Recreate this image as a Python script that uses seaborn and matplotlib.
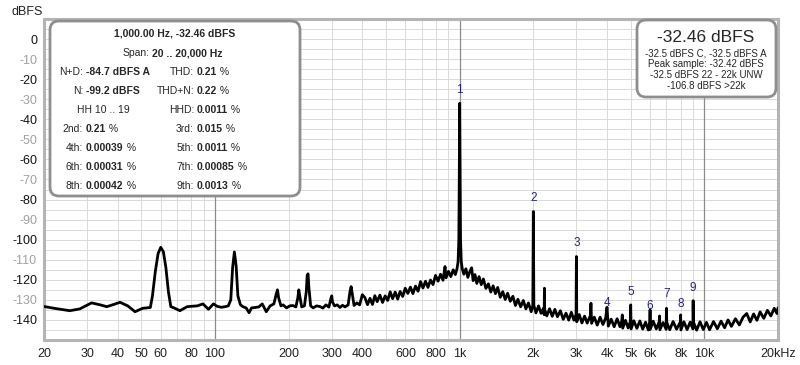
import pandas as pd
import seaborn as sns
import matplotlib.pyplot as plt
from matplotlib.patches import FancyBboxPatch

sns.set_theme(style="white")
plt.rcParams['font.family'] = ['Liberation Sans', 'DejaVu Sans']

# spectrum, split in three pieces
# 20 .. 400 Hz (mains hum region)
low_freq = [20, 22, 25.5, 28, 31.3, 34, 36.1, 38.5, 40.9, 44,
            47.1, 50.6, 54.4, 55.5, 57, 58.5, 60, 61.5, 63, 64.5,
            66, 68, 71.9, 76.9, 80, 84.5, 89.3, 94, 98.5, 102,
            106, 110, 113.3, 116, 118, 120, 122, 124, 127, 130,
            134, 137.8, 141, 146, 151, 156, 162, 168, 174, 178,
            180, 182, 186, 190, 196, 202, 208, 214, 218, 220,
            222, 226, 232, 236, 238, 240, 242, 246, 252, 260,
            268, 276, 284, 292, 298, 300, 302, 308, 316, 324,
            332, 340, 350, 356, 360, 364, 370, 380, 390, 400]
low_db = [-133.3, -134.2, -135.4, -134.5, -131.5, -132.5, -133.4, -132.3, -131.2, -133.0,
          -135.9, -134.2, -133.8, -128.0, -116.0, -107.0, -103.8, -106.0, -114.0, -126.0,
          -133.4, -134.0, -135.4, -133.4, -133.2, -133.0, -132.0, -134.7, -132.0, -133.2,
          -133.7, -133.4, -133.0, -130.0, -114.0, -106.1, -113.0, -128.0, -132.4, -133.4,
          -134.0, -136.4, -134.0, -133.8, -133.5, -132.0, -135.9, -133.0, -132.0, -127.0,
          -125.0, -129.0, -133.0, -132.5, -134.0, -133.0, -132.8, -133.5, -129.0, -125.0,
          -128.0, -133.5, -133.0, -126.0, -118.0, -117.0, -124.0, -133.0, -134.0, -133.0,
          -133.3, -134.1, -132.5, -133.6, -129.0, -128.0, -131.0, -133.0, -132.5, -133.8,
          -132.7, -133.5, -132.5, -126.0, -123.4, -127.0, -132.8, -131.5, -132.5, -127.4]

# 400 Hz .. 2 kHz (fundamental and its skirt)
mid_freq = [410, 420, 430, 440, 450, 460, 472, 484, 496, 508,
            520, 532, 545, 558, 571, 585, 599, 614, 629, 644,
            660, 676, 692, 708, 725, 742, 760, 778, 797, 816,
            835, 855, 871, 880, 900, 920, 941, 960, 975, 985,
            992, 996, 1000, 1004, 1008, 1015, 1025, 1040, 1060, 1080,
            1100, 1119, 1135, 1155, 1175, 1200, 1225, 1250, 1280, 1310,
            1340, 1370, 1400, 1430, 1465, 1500, 1535, 1570, 1610, 1650,
            1690, 1730, 1775, 1820, 1865, 1910, 1960, 1990]
mid_db = [-128.9, -132.4, -129.2, -132.3, -127.9, -130.9, -127.6, -131.3, -128.0, -130.3,
          -126.0, -129.4, -126.1, -129.6, -125.8, -128.3, -124.2, -126.8, -123.6, -126.9,
          -123.1, -125.7, -120.9, -124.1, -120.7, -123.8, -120.1, -122.4, -117.8, -120.7,
          -117.2, -120.2, -113.4, -119.0, -115.8, -118.4, -115.0, -117.4, -114.5, -111.0,
          -100.0, -70.0, -32.0, -70.0, -100.0, -111.0, -114.6, -117.2, -114.5, -118.8,
          -115.9, -114.0, -120.4, -117.4, -121.8, -118.4, -122.4, -119.6, -124.3, -122.0,
          -126.1, -123.0, -126.9, -123.8, -128.7, -125.9, -129.8, -126.7, -130.7, -128.2,
          -132.8, -129.7, -133.5, -130.3, -134.5, -131.5, -135.9, -132.8]

# 2 kHz .. 20 kHz (harmonics and noise floor)
high_freq = [2000, 2010, 2050, 2100, 2150, 2200, 2215, 2220, 2225, 2270,
             2330, 2390, 2450, 2510, 2580, 2650, 2720, 2790, 2860, 2930,
             2990, 3000, 3010, 3080, 3160, 3240, 3320, 3420, 3440, 3460,
             3550, 3650, 3750, 3850, 3950, 4000, 4050, 4160, 4280, 4400,
             4520, 4600, 4620, 4640, 4760, 4880, 4980, 5000, 5020, 5150,
             5300, 5450, 5600, 5750, 5900, 5990, 6000, 6010, 6180, 6360,
             6540, 6560, 6580, 6780, 6980, 7000, 7020, 7220, 7450, 7700,
             7980, 8000, 8020, 8250, 8500, 8750, 8980, 9000, 9020, 9300,
             9600, 9900, 10200, 10500, 10900, 11300, 11700, 12100, 12500, 12900,
             13400, 13900, 14400, 14900, 15400, 15900, 16400, 16900, 17500, 18100,
             18700, 19300, 19800, 20000]
high_db = [-86.0, -132.8, -136.5, -133.0, -136.7, -134.2, -137.4, -124.2, -134.8, -138.0,
           -134.4, -138.2, -134.7, -138.4, -135.4, -139.7, -136.6, -140.1, -136.2, -140.1,
           -137.2, -108.4, -140.9, -137.3, -141.5, -138.1, -141.6, -137.8, -131.7, -141.7,
           -138.6, -142.6, -138.6, -142.3, -139.1, -133.7, -143.1, -139.6, -143.4, -139.4,
           -143.4, -140.4, -137.5, -144.1, -140.2, -144.0, -140.9, -132.5, -144.5, -140.4,
           -144.2, -140.5, -144.6, -141.1, -145.0, -140.9, -135.0, -144.7, -140.6, -144.5,
           -140.9, -138.0, -144.9, -141.3, -144.7, -134.2, -141.2, -144.9, -140.8, -144.6,
           -141.0, -137.5, -145.0, -140.9, -144.8, -141.1, -144.5, -130.4, -141.0, -145.1,
           -140.9, -144.8, -141.2, -144.9, -140.8, -144.4, -140.6, -143.9, -140.0, -143.2,
           -139.4, -142.5, -138.6, -136.8, -141.0, -137.0, -140.2, -136.0, -139.2, -135.2,
           -138.0, -134.2, -136.8, -134.0]

# harmonic number labels (frequency, height of the label)
harm_freq = [1000, 2000, 3000, 4000, 5000, 6000, 7000, 8000, 9000]
harm_label_db = [-25.4, -79.2, -101.6, -131.5, -126.1, -133.0, -127.1, -132.1, -124.1]
harm_labels = ['1', '2', '3', '4', '5', '6', '7', '8', '9']

x_ticks = [20, 30, 40, 50, 60, 80, 100, 200, 300, 400, 600, 800,
           1000, 2000, 3000, 4000, 5000, 6000, 8000, 10000, 20000]
x_labels = ['20', '30', '40', '50', '60', '80', '100', '200', '300', '400', '600', '800',
            '1k', '2k', '3k', '4k', '5k', '6k', '8k', '10k', '20kHz']
y_ticks = [0, -10, -20, -30, -40, -50, -60, -70, -80, -90, -100, -110, -120, -130, -140]

# info panel text
title_line = '1,000.00 Hz, -32.46 dBFS'
span_value = '20 .. 20,000 Hz'
left_names = ['N+D:', 'N:', None, '2nd:', '4th:', '6th:', '8th:']
left_values = ['-84.7 dBFS A', '-99.2 dBFS', None, '0.21', '0.00039', '0.00031', '0.00042']
right_names = ['THD:', 'THD+N:', 'HHD:', '3rd:', '5th:', '7th:', '9th:']
right_values = ['0.21', '0.22', '0.0011', '0.015', '0.0011', '0.00085', '0.0013']
level_big = '-32.46 dBFS'
level_lines = ['-32.5 dBFS C, -32.5 dBFS A', 'Peak sample: -32.42 dBFS',
               '-32.5 dBFS 22 - 22k UNW', '-106.8 dBFS >22k']

df = pd.DataFrame({'freq': low_freq + mid_freq + high_freq,
                   'db': low_db + mid_db + high_db})

W, H = 800, 365
fig = plt.figure(figsize=(W / 100, H / 100), dpi=100)
fig.patch.set_facecolor('white')
ax = fig.add_axes([44 / W, 1 - 340 / H, (778 - 44) / W, (340 - 19) / H])
ax.set_xscale('log')

sns.lineplot(data=df, x='freq', y='db', ax=ax, color='black', lw=2.0,
             estimator=None, sort=False, zorder=5)

ax.set_xlim(20, 20000)
ax.set_ylim(-150, 10)
ax.set_xlabel('')
ax.set_ylabel('')

# grid
minor_x = [f * m for m in (10, 100, 1000) for f in range(2, 10)] + [10000, 20000]
ax.set_xticks(minor_x, minor=True)
ax.set_xticks(x_ticks, x_labels)
ax.set_yticks(list(range(-150, 11, 5)), minor=True)
ax.set_yticks(y_ticks, [str(v) for v in y_ticks])
ax.grid(which='both', color='#dadada', lw=0.7)
for f in (100, 1000, 10000):
    ax.axvline(f, color='#8c8c8c', lw=0.9, zorder=2)
ax.tick_params(which='both', length=0)
ax.tick_params(axis='x', labelsize=9, pad=6, colors='#222222')
ax.tick_params(axis='y', labelsize=9, pad=5)
for s in ax.spines.values():
    s.set_color('#b4b4b4')
    s.set_linewidth(2.2)

for f, d, t in zip(harm_freq, harm_label_db, harm_labels):
    ax.text(f, d, t, ha='center', va='center', fontsize=8.5, color='#24246e', zorder=6)

fig.text(27 / W, 1 - 12 / H, 'dBFS', ha='center', va='center', fontsize=9, color='#222222')

# overlay in pixel coordinates for the two boxes
ov = fig.add_axes([0, 0, 1, 1], zorder=10)
ov.set_xlim(0, W)
ov.set_ylim(H, 0)
ov.axis('off')
ov.patch.set_alpha(0)

for (x0, y0, x1, y1) in [(50, 21, 300, 196), (637, 20, 776, 97)]:
    ov.add_patch(FancyBboxPatch((x0, y0), x1 - x0, y1 - y0,
                                boxstyle='round,pad=0,rounding_size=9',
                                fc='white', ec='#8e8e8e', lw=2.0))

fs = 7.5
ov.text(175, 33, title_line, ha='center', va='center', fontsize=fs, fontweight='bold')
ov.text(150, 53, 'Span:', ha='right', va='center', fontsize=fs)
ov.text(152, 53, span_value, ha='left', va='center', fontsize=fs, fontweight='bold')

row_y = [72, 91, 110, 129, 148, 167, 186]
for i, y in enumerate(row_y):
    if left_names[i] is None:
        ov.text(103, y, 'HH 10 .. 19', ha='center', va='center', fontsize=fs)
    else:
        ov.text(83, y, left_names[i], ha='right', va='center', fontsize=fs)
        t = ov.text(86, y, left_values[i], ha='left', va='center', fontsize=fs, fontweight='bold')
        if i >= 3:
            ov.annotate(' %', xy=(1, 0.5), xycoords=t, ha='left', va='center', fontsize=fs)
    ov.text(194, y, right_names[i], ha='right', va='center', fontsize=fs)
    t = ov.text(197, y, right_values[i], ha='left', va='center', fontsize=fs, fontweight='bold')
    ov.annotate(' %', xy=(1, 0.5), xycoords=t, ha='left', va='center', fontsize=fs)

ov.text(706, 37, level_big, ha='center', va='center', fontsize=12.5)
for y, line in zip([53, 64, 75, 86], level_lines):
    ov.text(706, y, line, ha='center', va='center', fontsize=7)

# every other y label is grey in the original
fig.canvas.draw()
for lab, v in zip(ax.get_yticklabels(), y_ticks):
    lab.set_color('#111111' if v % 20 == 0 else '#a0a0a0')

fig.savefig('out.png', dpi=100)
